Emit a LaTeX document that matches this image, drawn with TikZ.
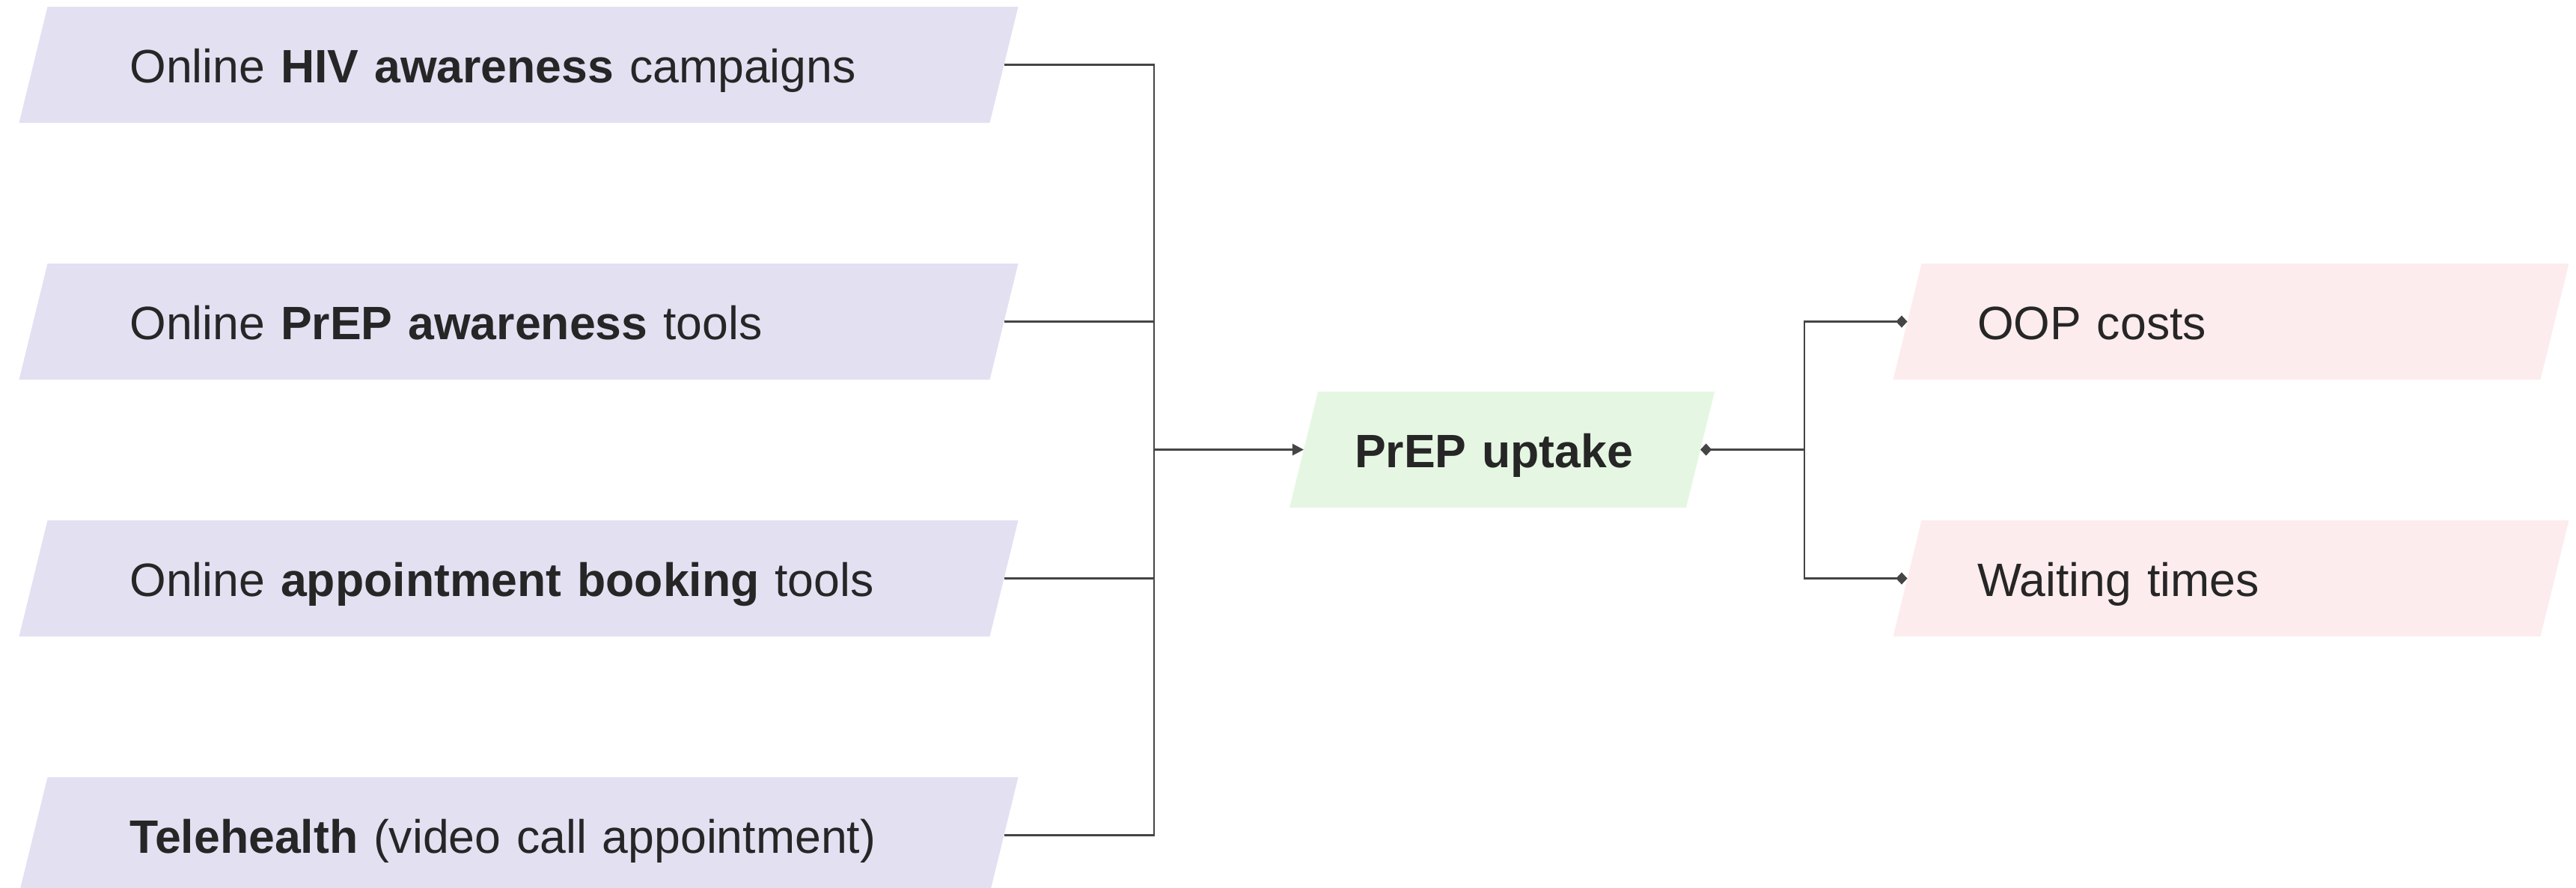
\documentclass[tikz,border=0pt]{standalone}
\usepackage{fontspec}
\setmainfont{Liberation Sans}
\usetikzlibrary{arrows.meta, backgrounds}

\definecolor{causebg}{HTML}{E3E0F2}
\definecolor{outcomebg}{HTML}{E5F7E3}
\definecolor{barrierbg}{HTML}{FDECEE}
\definecolor{linegray}{HTML}{454545}
\definecolor{textgray}{HTML}{262626}

\tikzset{
  box/.style={rectangle, outer sep=0pt, minimum height=1.55cm, align=left,
    text height=15pt, text depth=1.1pt,
    text=textgray, font=\fontsize{17.8}{21}\selectfont},
  cause/.style={box, inner xsep=1.29cm, text width=10.39cm},
  outcome/.style={box, inner xsep=0.68cm, text width=3.94cm},
  barrier/.style={box, inner xsep=0.935cm, text width=6.78cm},
  link/.style={draw=linegray, line width=0.8pt},
}

\begin{document}
\begin{tikzpicture}
    \useasboundingbox (0,0) rectangle (34.42,11.85);

    % Draw nodes
    \node[cause] (hiv) at (6.93,10.985) {Online \textbf{HIV awareness} campaigns};
    \node[cause] (prep) at (6.93,7.555) {Online \textbf{PrEP awareness} tools};
    \node[cause] (booking) at (6.93,4.125) {Online \textbf{appointment booking} tools};
    \node[cause] (tele) at (6.93,0.695) {\textbf{Telehealth} (video call appointment)};
    \node[outcome] (uptake) at (20.07,5.845) {\textbf{PrEP uptake}};
    \node[barrier] (oop) at (29.81,7.555) {OOP costs};
    \node[barrier] (wait) at (29.81,4.125) {Waiting times};

    % Slanted backgrounds
    \begin{scope}[on background layer]
        \foreach \n/\c in {hiv/causebg, prep/causebg, booking/causebg, tele/causebg,
                           uptake/outcomebg, oop/barrierbg, wait/barrierbg}
            \fill[\c] ([xshift=0.19cm]\n.north west) -- ([xshift=0.19cm]\n.north east)
                -- ([xshift=-0.19cm]\n.south east) -- ([xshift=-0.19cm]\n.south west) -- cycle;
    \end{scope}

    % Draw connections
    \coordinate (jl) at (15.42,5.845);
    \coordinate (jr) at (24.11,5.845);
    \foreach \n in {hiv, prep, booking, tele}
        \draw[link] (\n.east) -| (jl);
    \draw[link, -{Triangle[length=4.3pt, width=4.3pt]}] (jl) -- (uptake.west);
    \draw[link, {Diamond[length=4.3pt, width=4.6pt]}-] (uptake.east) -- (jr);
    \draw[link, -{Diamond[length=4.3pt, width=4.6pt]}] (jr) |- (oop.west);
    \draw[link, -{Diamond[length=4.3pt, width=4.6pt]}] (jr) |- (wait.west);
\end{tikzpicture}
\end{document}
